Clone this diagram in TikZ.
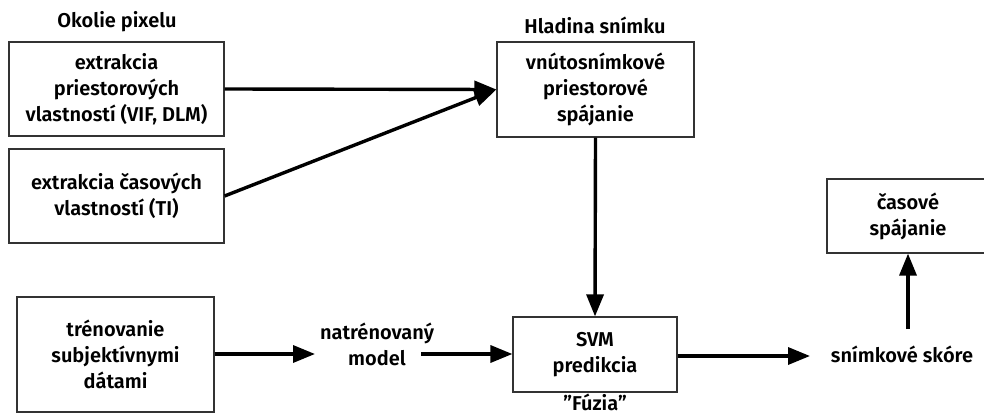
\documentclass[tikz,border=0pt]{standalone}
\usepackage{fontspec}
\setmainfont{Fira Sans}[UprightFont=* SemiBold]
\usetikzlibrary{arrows.meta}
\tikzset{
  box/.style={draw=black!80, line width=1.2pt, align=center, inner sep=0pt,
              font=\fontsize{20}{26}\selectfont},
  lbl/.style={align=center, inner sep=0pt, font=\fontsize{20}{26}\selectfont},
  flow/.style={line width=3.4pt, -{Triangle[length=22pt,width=17pt]}},
}
\begin{document}
\begin{tikzpicture}[x=1pt,y=-1pt]
  \clip (0,0) rectangle (984,414);
  \fill[white] (0,0) rectangle (984,414);

  % group headings
  \node[lbl] (hpix) at (117,22) {Okolie pixelu};
  \node[lbl] (hsnim) at (595,25) {Hladina snímku};

  % feature extraction
  \node[box, minimum width=215, minimum height=94] (spat) at (116.5,89)
    {extrakcia\\priestorových\\vlastností (VIF, DLM)};
  \node[box, minimum width=215, minimum height=94] (temp) at (116.5,196)
    {extrakcia časových\\vlastností (TI)};

  % spatial pooling
  \node[box, minimum width=197, minimum height=95] (pool) at (595.5,89.5)
    {vnútosnímkové\\priestorové\\spájanie};

  % training and prediction
  \node[box, minimum width=197, minimum height=115] (train) at (115.5,354.5)
    {trénovanie\\subjektívnymi\\dátami};
  \node[lbl] (model) at (377,344) {natrénovaný\\model};
  \node[box, minimum width=164, minimum height=75] (svm) at (595,354.5)
    {SVM\\predikcia};
  \node[lbl, anchor=north] (fuz) at (595,394) {\symbol{34}Fúzia\symbol{34}};

  % frame score and temporal pooling
  \node[lbl] (score) at (902,354) {snímkové skóre};
  \node[box, minimum width=162, minimum height=74] (tpool) at (908,216)
    {časové\\spájanie};
  \coordinate (scoreup) at (908,329);
  \coordinate (scorein) at (810,356);
  \coordinate (modelin) at (315,354);
  \coordinate (modelout) at (421,354);

  % connectors
  \draw[flow] (spat.east) -- (pool.west);
  \draw[flow] (temp.east) -- (pool.west);
  \draw[flow] (pool.south) -- (svm.north);
  \draw[flow] (train.east |- modelin) -- (modelin);
  \draw[flow] (modelout) -- (svm.west |- modelout);
  \draw[flow] (svm.east |- scorein) -- (scorein);
  \draw[flow] (scoreup) -- (tpool.south -| scoreup);
\end{tikzpicture}
\end{document}
